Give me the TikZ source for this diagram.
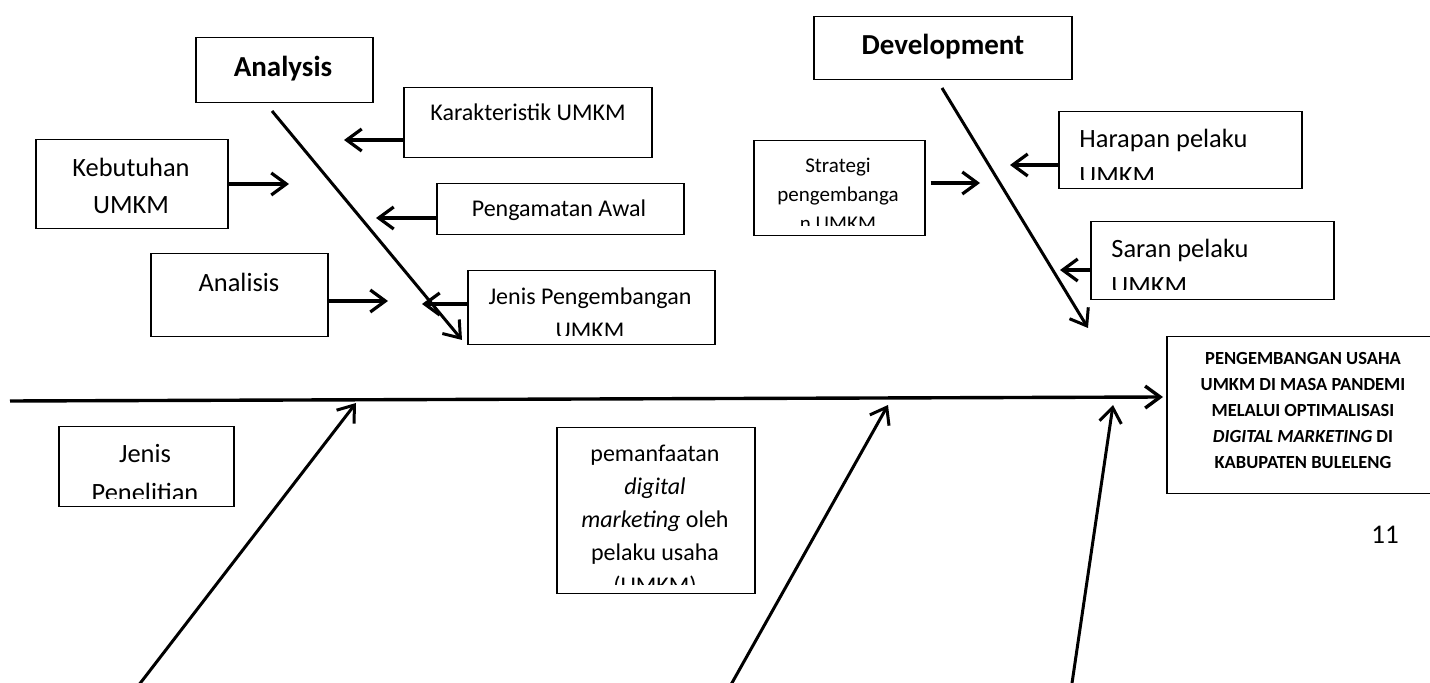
\documentclass[tikz,border=0pt]{standalone}
\usepackage{fontspec}
\setmainfont{Carlito}
\usetikzlibrary{arrows.meta}
\begin{document}
\begin{tikzpicture}[x=0.5pt,y=-0.5pt,
  box/.style={draw=black,line width=0.75pt,inner sep=0pt,anchor=north west},
  arr/.style={line width=1.6pt,-{Straight Barb[length=7.5pt,width=11pt]}},
  bone/.style={line width=1.5pt,-{Straight Barb[length=7.5pt,width=11pt]}},
  spine/.style={line width=1.7pt,-{Straight Barb[length=7.5pt,width=11pt]}},
  head/.style={inner sep=0pt,anchor=base,font=\fontsize{14.5}{17}\selectfont\bfseries},
  tL/.style={inner sep=0pt,anchor=base,font=\fontsize{13.2}{16}\selectfont},
  tM/.style={inner sep=0pt,anchor=base,font=\fontsize{12}{14}\selectfont},
  tS/.style={inner sep=0pt,anchor=base,font=\fontsize{10.5}{12}\selectfont},
  tT/.style={inner sep=0pt,anchor=base,font=\fontsize{9.25}{11}\selectfont\bfseries},
]
\useasboundingbox (0,0) rectangle (1430,683);

% ---------- boxes ----------
\node[box,minimum width=88.5pt,minimum height=32.5pt] (analysis) at (195,37) {};
\node[box,minimum width=124pt,minimum height=35pt] (karak) at (403,87) {};
\node[box,minimum width=96pt,minimum height=44.5pt] (kebut) at (35,139) {};
\node[box,minimum width=123.5pt,minimum height=25.5pt] (pengam) at (436,183) {};
\node[box,minimum width=88.5pt,minimum height=41.5pt] (analisis) at (150,253) {};
\node[box,minimum width=123.5pt,minimum height=37pt] (jenisPeng) at (467,270) {};
\node[box,minimum width=129pt,minimum height=31.5pt] (dev) at (813,16) {};
\node[box,minimum width=85.5pt,minimum height=47.5pt] (strat) at (753,140) {};
\node[box,minimum width=121.5pt,minimum height=38.5pt] (harap) at (1058,111) {};
\node[box,minimum width=121.5pt,minimum height=39pt] (saran) at (1090,221) {};
\node[box,minimum width=137pt,minimum height=78.5pt] (target) at (1166,336) {};
\node[box,minimum width=87.5pt,minimum height=40pt] (jenisPen) at (58,426) {};
\node[box,minimum width=99pt,minimum height=83pt] (pemanf) at (556,427) {};

% ---------- texts ----------
\node[head] (analysisT) at (283,77) {Analysis};
\node[head] (devT) at (943,55) {Development};
\node[tM] (karakT) at (528,121) {Karakteristik UMKM};
\node[tM] (pengamT) at (559,217) {Pengamatan Awal};
\node[tL] (kebutT1) at (131,177) {Kebutuhan};
\node[tL] (kebutT2) at (131,214) {UMKM};
\node[tL] (analisisT) at (239,292) {Analisis};
\begin{scope}
  \clip (jenisPeng.north west) rectangle ([yshift=5pt]jenisPeng.south east);
  \node[tM] (jenisPengT1) at (590,305) {Jenis Pengembangan};
  \node[tM] (jenisPengT2) at (590,339) {UMKM};
\end{scope}
\begin{scope}
  \clip (strat.north west) rectangle ([yshift=5.5pt]strat.south east);
  \node[tS] (stratT1) at (838,173) {Strategi};
  \node[tS] (stratT2) at (838,202) {pengembanga};
  \node[tS] (stratT3) at (838,231) {n UMKM};
\end{scope}
\begin{scope}
  \clip (harap.north west) rectangle ([yshift=5pt]harap.south east);
  \node[tL,anchor=base west] (harapT1) at (1079,148) {Harapan pelaku};
  \node[tL,anchor=base west] (harapT2) at (1079,185) {UMKM};
\end{scope}
\begin{scope}
  \clip (saran.north west) rectangle ([yshift=5.5pt]saran.south east);
  \node[tL,anchor=base west] (saranT1) at (1111,258) {Saran pelaku};
  \node[tL,anchor=base west] (saranT2) at (1111,295) {UMKM};
\end{scope}
\begin{scope}
  \clip (jenisPen.north west) rectangle ([yshift=4.5pt]jenisPen.south east);
  \node[tL] (jenisPenT1) at (145,463) {Jenis};
  \node[tL] (jenisPenT2) at (145,502) {Penelitian};
\end{scope}
\begin{scope}
  \clip (pemanf.north west) rectangle ([yshift=5pt]pemanf.south east);
  \node[tM] (pemanfT1) at (655,462) {pemanfaatan};
  \node[tM] (pemanfT2) at (655,495) {\itshape digital};
  \node[tM] (pemanfT3) at (655,528) {\textit{marketing} oleh};
  \node[tM] (pemanfT4) at (655,561) {pelaku usaha};
  \node[tM] (pemanfT5) at (655,594) {(UMKM)};
\end{scope}
\node[tT] (targetT1) at (1303,365) {PENGEMBANGAN USAHA};
\node[tT] (targetT2) at (1303,391) {UMKM DI MASA PANDEMI};
\node[tT] (targetT3) at (1303,417) {MELALUI OPTIMALISASI};
\node[tT] (targetT4) at (1303,443) {\textit{DIGITAL MARKETING} DI};
\node[tT] (targetT5) at (1303,469) {KABUPATEN BULELENG};
\node[inner sep=0pt,anchor=base,font=\fontsize{13.5}{16}\selectfont] (pageno) at (1385,543.5) {11};

% ---------- free ends ----------
\coordinate (aS) at (272,111);
\coordinate (aE) at (462,340);
\coordinate (dS) at (942,88);
\coordinate (dE) at (1088,328);
\coordinate (spS) at (10,401);
\coordinate (spE) at (1163,397);
\coordinate (b1S) at (135,690);
\coordinate (b1E) at (356,403);
\coordinate (b2S) at (728,690);
\coordinate (b2E) at (888,405);
\coordinate (b3S) at (1071,690);
\coordinate (b3E) at (1113,405);
\coordinate (karakE) at (344,140);
\coordinate (kebutE) at (289,184);
\coordinate (pengamE) at (376,218);
\coordinate (analisisE) at (388,301);
\coordinate (jenisPengE) at (422,304);
\coordinate (stratE) at (980,183);
\coordinate (harapE) at (1010,165);
\coordinate (saranE) at (1060,270);

% ---------- connectors ----------
\draw[spine] (spS) -- (spE);
\draw[bone] (aS) -- (aE);
\draw[bone] (dS) -- (dE);
\draw[bone] (b1S) -- (b1E);
\draw[bone] (b2S) -- (b2E);
\draw[bone] (b3S) -- (b3E);
\draw[arr] (karak.west |- karakE) -- (karakE);
\draw[arr] (kebut.east |- kebutE) -- (kebutE);
\draw[arr] (pengam.west |- pengamE) -- (pengamE);
\draw[arr] (analisis.east |- analisisE) -- (analisisE);
\draw[arr] (jenisPeng.west |- jenisPengE) -- (jenisPengE);
\draw[arr] ([xshift=2.5pt]strat.east |- stratE) -- (stratE);
\draw[arr] (harap.west |- harapE) -- (harapE);
\draw[arr] (saran.west |- saranE) -- (saranE);
\end{tikzpicture}
\end{document}
